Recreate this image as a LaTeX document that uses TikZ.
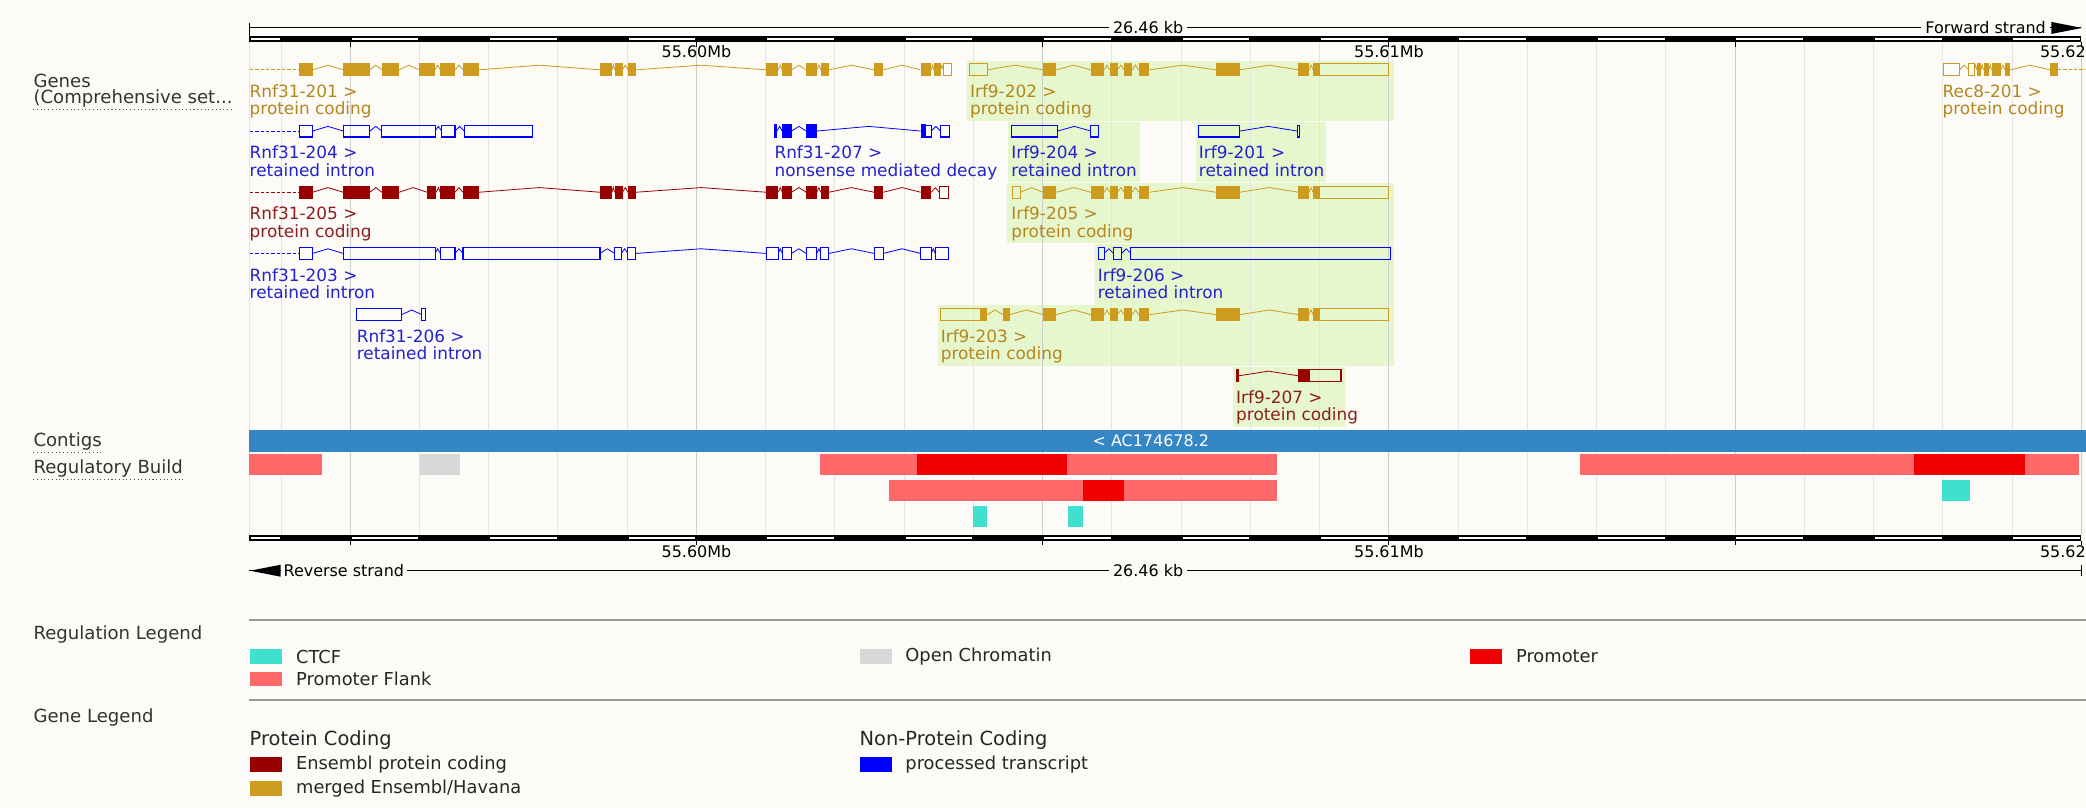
\documentclass[tikz,border=0pt]{standalone}
\usepackage{fontspec}
\setmainfont{DejaVu Sans}
\usepackage{tikz}
\usetikzlibrary{positioning}
\usepackage{xcolor}

\definecolor{pagebg}{RGB}{252,251,247}
\definecolor{ensgold}{RGB}{205,155,29}
\definecolor{ensgoldtxt}{RGB}{180,134,30}
\definecolor{ensred}{RGB}{153,0,0}
\definecolor{ensredtxt}{RGB}{139,30,30}
\definecolor{ensblue}{RGB}{0,0,255}
\definecolor{ensbluetxt}{RGB}{35,35,205}
\definecolor{hilite}{RGB}{230,246,205}
\definecolor{gridgrey}{RGB}{228,228,226}
\definecolor{gridmajor}{RGB}{205,205,203}
\definecolor{contigblue}{RGB}{53,134,196}
\definecolor{flank}{RGB}{255,104,104}
\definecolor{promoter}{RGB}{240,0,0}
\definecolor{ctcf}{RGB}{64,224,208}
\definecolor{openchrom}{RGB}{216,216,216}

\begin{document}
\begin{tikzpicture}[x=1pt, y=-1pt,
  txt/.style={font=\fontsize{12}{13}\selectfont, inner sep=0pt},
  sidelbl/.style={font=\fontsize{13.6}{14}\selectfont, inner sep=0pt, anchor=west, text=black!80},
  glbl/.style={font=\fontsize{12.7}{13}\selectfont, inner sep=0pt, anchor=north west, align=left},
  ext/.style={draw=#1, dash pattern=on 2.5pt off 1.5pt, line width=0.8pt},
  intron/.style={draw=#1, line width=0.6pt},
  utr/.style={draw=#1, line width=0.8pt},
  swatch/.style={fill=#1, minimum width=24pt, minimum height=11pt, inner sep=0pt, anchor=west},
  legtxt/.style={font=\fontsize{13.4}{14}\selectfont, inner sep=0pt, text=black!85},
  leghead/.style={font=\fontsize{14.6}{15}\selectfont, inner sep=0pt, anchor=west, text=black!85},
  sepline/.style={draw=black!40, line width=1.2pt}
]

  %--- page ---
  \useasboundingbox (0,0) rectangle (1568,607);
  \fill[pagebg] (0,0) rectangle (1568,607);

  %--- highlighted Irf9 transcripts ---
  \fill[hilite] (727,45.5) rectangle (1048,91);
  \fill[hilite] (758,91.5) rectangle (857,137);
  \fill[hilite] (899,91.5) rectangle (997,137);
  \fill[hilite] (757,137.5) rectangle (1048,183);
  \fill[hilite] (823,183.5) rectangle (1048,229);
  \fill[hilite] (705,229.5) rectangle (1048,275);
  \fill[hilite] (927,275.5) rectangle (1011,321);

  %--- grid ---
  \draw[gridgrey] (187.5,31.5) -- (187.5,402);
  \foreach \k in {0,...,26}{
    \pgfmathsetmacro\gx{211.2+52.05*\k}
    \draw[gridgrey, line width=0.7pt] (\gx,31.5) -- (\gx,402);
  }
  \foreach \gx in {263.25,523.5,783.75,1044,1304.25,1564.5}
    \draw[gridmajor, line width=0.8pt] (\gx,31.5) -- (\gx,402);

  %--- RULERS ---
  \foreach \ry in {27,402}{
    \fill (187.5,\ry) rectangle (1564.5,\ry+4.5);
    \fill[white] (188.7,\ry+1.5) rectangle (210.2,\ry+3);
    \foreach \k in {1,3,...,25}{
      \pgfmathsetmacro\ga{211.2+52.05*\k+1}
      \pgfmathsetmacro\gb{211.2+52.05*(\k+1)-1}
      \fill[white] (\ga,\ry+1.5) rectangle (\gb,\ry+3);
    }
    \foreach \gx in {263.25,523.5,783.75,1044,1304.25,1564.5}
      \draw[line width=0.8pt] (\gx,\ry+4.5) -- (\gx,\ry+8);
  }
  % top
  \draw[line width=0.7pt] (187.5,21) -- (1564.5,21);
  \draw[line width=0.7pt] (187.5,17) -- (187.5,27);
  \node[txt, fill=pagebg, inner xsep=3pt] (tkb) at (863,21) {26.46 kb};
  \node[txt, fill=pagebg, inner xsep=3pt, anchor=east] (fwd) at (1541,21) {Forward strand};
  \fill (1542,16.5) -- (1565,21) -- (1542,25.5) -- cycle;
  \node[txt] (tlab60) at (523.5,38.5) {55.60Mb};
  \node[txt] (tlab61) at (1044,38.5) {55.61Mb};
  \node[txt, anchor=east] (tlab62) at (1568,38.5) {55.62};
  % bottom
  \node[txt] (blab60) at (523.5,414.5) {55.60Mb};
  \node[txt] (blab61) at (1044,414.5) {55.61Mb};
  \node[txt, anchor=east] (blab62) at (1568,414.5) {55.62};
  \draw[line width=0.7pt] (187.5,429) -- (1564.5,429);
  \draw[line width=0.7pt] (1564.5,425) -- (1564.5,433);
  \fill (188,429) -- (211,424.5) -- (211,433.5) -- cycle;
  \node[txt, fill=pagebg, inner xsep=2pt, anchor=west] (rev) at (211,429) {Reverse strand};
  \node[txt, fill=pagebg, inner xsep=3pt] (bkb) at (863,429) {26.46 kb};

  %--- GENES ---
  % Row 1
  \begin{scope}[shift={(0,52.5)}]
    % Rnf31-201
    \draw[ext=ensgold] (188,0) -- (225,0);
    \foreach \xa/\xb in {235/258,278/287,300/315,327/331,342/348,360/451,460/462,468/472,478/576,585/588,595/606,614/617,623/657,664/692,700/702,707/709}
      \draw[intron=ensgold] (\xa,0) -- ({(\xa+\xb)/2},-3.5) -- (\xb,0);
    \foreach \xa/\xb in {225/235,258/278,287/300,315/327,331/342,348/360,451/460,462/468,472/478,576/585,588/595,606/614,617/623,657/664,692/700,702/707}
      \fill[ensgold] (\xa,-5) rectangle (\xb,5);
    \draw[utr=ensgold] (709,-4.5) rectangle (715,4.5);
    \node[glbl, text=ensgoldtxt] (rnf201) at (187.5,11) {Rnf31-201 >\\protein coding};
    % Irf9-202
    \foreach \xa/\xb in {742/784,794/820,830/834,840/845,851/856,864/914,932/976,984/987}
      \draw[intron=ensgold] (\xa,0) -- ({(\xa+\xb)/2},-3.5) -- (\xb,0);
    \foreach \xa/\xb in {784/794,820/830,834/840,845/851,856/864,914/932,976/984,987/992}
      \fill[ensgold] (\xa,-5) rectangle (\xb,5);
    \foreach \xa/\xb in {729/742,992/1044}
      \draw[utr=ensgold] (\xa,-4.5) rectangle (\xb,4.5);
    \node[glbl, text=ensgoldtxt] (irf202) at (729,11) {Irf9-202 >\\protein coding};
    % Rec8-201
    \foreach \xa/\xb in {1473/1480,1484/1486,1489/1491,1495/1497,1504/1507,1511/1541}
      \draw[intron=ensgold] (\xa,0) -- ({(\xa+\xb)/2},-3.5) -- (\xb,0);
    \foreach \xa/\xb in {1486/1489,1491/1495,1497/1504,1507/1511,1541/1547}
      \fill[ensgold] (\xa,-5) rectangle (\xb,5);
    \foreach \xa/\xb in {1461/1473,1480/1484}
      \draw[utr=ensgold] (\xa,-4.5) rectangle (\xb,4.5);
    \draw[ext=ensgold] (1547,0) -- (1568,0);
    \node[glbl, text=ensgoldtxt] (rec201) at (1460,11) {Rec8-201 >\\protein coding};
  \end{scope}

  % Row 2
  \begin{scope}[shift={(0,98.5)}]
    % Rnf31-204
    \draw[ext=ensblue] (188,0) -- (225,0);
    \foreach \xa/\xb in {235/258,278/287,327/332,342/349}
      \draw[intron=ensblue] (\xa,0) -- ({(\xa+\xb)/2},-3.5) -- (\xb,0);
    \foreach \xa/\xb in {225/235,258/278,287/327,332/342,349/400}
      \draw[utr=ensblue] (\xa,-4.5) rectangle (\xb,4.5);
    \node[glbl, text=ensbluetxt] (rnf204) at (187.5,11) {Rnf31-204 >\\retained intron};
    % Rnf31-207
    \foreach \xa/\xb in {584/588,595/606,614/692,700/707}
      \draw[intron=ensblue] (\xa,0) -- ({(\xa+\xb)/2},-3.5) -- (\xb,0);
    \foreach \xa/\xb in {582/584,588/595,606/614,692/696}
      \fill[ensblue] (\xa,-5) rectangle (\xb,5);
    \foreach \xa/\xb in {696/700,707/714}
      \draw[utr=ensblue] (\xa,-4.5) rectangle (\xb,4.5);
    \node[glbl, text=ensbluetxt] (rnf207) at (582,11) {Rnf31-207 >\\nonsense mediated decay};
    % Irf9-204
    \draw[intron=ensblue] (795,0) -- (807.5,-3.5) -- (820,0);
    \foreach \xa/\xb in {760/795,820/826}
      \draw[utr=ensblue] (\xa,-4.5) rectangle (\xb,4.5);
    \node[glbl, text=ensbluetxt] (irf204) at (760,11) {Irf9-204 >\\retained intron};
    % Irf9-201
    \draw[intron=ensblue] (932,0) -- (953.5,-3.5) -- (975,0);
    \foreach \xa/\xb in {901/932,975/977}
      \draw[utr=ensblue] (\xa,-4.5) rectangle (\xb,4.5);
    \node[glbl, text=ensbluetxt] (irf201) at (901,11) {Irf9-201 >\\retained intron};
  \end{scope}

  % Row 3
  \begin{scope}[shift={(0,144.5)}]
    % Rnf31-205
    \draw[ext=ensred] (188,0) -- (225,0);
    \foreach \xa/\xb in {235/258,278/287,300/321,328/331,342/348,360/451,460/462,468/472,478/576,585/588,595/606,614/617,623/657,664/692,700/706}
      \draw[intron=ensred] (\xa,0) -- ({(\xa+\xb)/2},-3.5) -- (\xb,0);
    \foreach \xa/\xb in {225/235,258/278,287/300,321/328,331/342,348/360,451/460,462/468,472/478,576/585,588/595,606/614,617/623,657/664,692/700}
      \fill[ensred] (\xa,-5) rectangle (\xb,5);
    \draw[utr=ensred] (706,-4.5) rectangle (713,4.5);
    \node[glbl, text=ensredtxt] (rnf205) at (187.5,11) {Rnf31-205 >\\protein coding};
    % Irf9-205
    \foreach \xa/\xb in {767/784,794/820,830/834,840/845,851/856,864/914,932/976,984/987}
      \draw[intron=ensgold] (\xa,0) -- ({(\xa+\xb)/2},-3.5) -- (\xb,0);
    \foreach \xa/\xb in {784/794,820/830,834/840,845/851,856/864,914/932,976/984,987/992}
      \fill[ensgold] (\xa,-5) rectangle (\xb,5);
    \foreach \xa/\xb in {761/767,992/1044}
      \draw[utr=ensgold] (\xa,-4.5) rectangle (\xb,4.5);
    \node[glbl, text=ensgoldtxt] (irf205) at (760,11) {Irf9-205 >\\protein coding};
  \end{scope}

  % Row 4
  \begin{scope}[shift={(0,190.5)}]
    % Rnf31-203
    \draw[ext=ensblue] (188,0) -- (225,0);
    \foreach \xa/\xb in {235/258,327/331,342/348,451/462,467/472,478/576,585/588,595/606,614/617,623/657,664/692,700/703}
      \draw[intron=ensblue] (\xa,0) -- ({(\xa+\xb)/2},-3.5) -- (\xb,0);
    \foreach \xa/\xb in {225/235,258/327,331/342,348/451,462/467,472/478,576/585,588/595,606/614,617/623,657/664,692/700,703/713}
      \draw[utr=ensblue] (\xa,-4.5) rectangle (\xb,4.5);
    \node[glbl, text=ensbluetxt] (rnf203) at (187.5,11) {Rnf31-203 >\\retained intron};
    % Irf9-206
    \foreach \xa/\xb in {830/837,843/850}
      \draw[intron=ensblue] (\xa,0) -- ({(\xa+\xb)/2},-3.5) -- (\xb,0);
    \foreach \xa/\xb in {826/830,837/843,850/1045}
      \draw[utr=ensblue] (\xa,-4.5) rectangle (\xb,4.5);
    \node[glbl, text=ensbluetxt] (irf206) at (825,11) {Irf9-206 >\\retained intron};
  \end{scope}

  % Row 5
  \begin{scope}[shift={(0,236.5)}]
    % Rnf31-206
    \draw[intron=ensblue] (302,0) -- (309.5,-3.5) -- (317,0);
    \foreach \xa/\xb in {268/302,317/320}
      \draw[utr=ensblue] (\xa,-4.5) rectangle (\xb,4.5);
    \node[glbl, text=ensbluetxt] (rnf206) at (268,11) {Rnf31-206 >\\retained intron};
    % Irf9-203
    \foreach \xa/\xb in {742/754,759/784,794/820,830/834,840/845,851/856,864/914,932/976,984/987}
      \draw[intron=ensgold] (\xa,0) -- ({(\xa+\xb)/2},-3.5) -- (\xb,0);
    \foreach \xa/\xb in {737/742,754/759,784/794,820/830,834/840,845/851,856/864,914/932,976/984,987/992}
      \fill[ensgold] (\xa,-5) rectangle (\xb,5);
    \foreach \xa/\xb in {707/737,992/1044}
      \draw[utr=ensgold] (\xa,-4.5) rectangle (\xb,4.5);
    \node[glbl, text=ensgoldtxt] (irf203) at (707,11) {Irf9-203 >\\protein coding};
  \end{scope}

  % Row 6
  \begin{scope}[shift={(0,282.5)}]
    % Irf9-207
    \draw[intron=ensred] (931,0) -- (953.5,-3.5) -- (976,0);
    \foreach \xa/\xb in {929/931,976/984}
      \fill[ensred] (\xa,-5) rectangle (\xb,5);
    \draw[utr=ensred] (984,-4.5) rectangle (1008,4.5);
    \node[glbl, text=ensredtxt] (irf207) at (929,11) {Irf9-207 >\\protein coding};
  \end{scope}

  %--- CONTIGS ---
  \fill[contigblue] (187.5,323) rectangle (1568,339.5);
  \node[txt, text=white] (contig) at (865,331) {< AC174678.2};

  %--- REGULATORY BUILD ---
  % row 1
  \fill[flank] (187.5,341.5) rectangle (242,357);
  \fill[openchrom] (316,341.5) rectangle (346,357);
  \fill[flank] (616,341.5) rectangle (960,357);
  \fill[promoter] (689,341.5) rectangle (802,357);
  \fill[flank] (1188,341.5) rectangle (1563,357);
  \fill[promoter] (1439,341.5) rectangle (1522,357);
  % row 2
  \fill[flank] (668,361) rectangle (960,376.5);
  \fill[promoter] (814,361) rectangle (845,376.5);
  \fill[ctcf] (1460,361) rectangle (1481,376.5);
  % row 3
  \fill[ctcf] (731,380.5) rectangle (742,396);
  \fill[ctcf] (803,380.5) rectangle (814,396);

  %--- side labels ---
  \node[sidelbl] (genes) at (25,61) {Genes};
  \node[sidelbl] (compset) at (25,74) {(Comprehensive set...};
  \node[sidelbl] (contigs) at (25,332) {Contigs};
  \node[sidelbl] (regbuild) at (25,352) {Regulatory Build};
  \foreach \nm in {compset,contigs,regbuild}
    \draw[dotted, line width=0.8pt, black!70] ([yshift=-1.5pt]\nm.south west) -- ([yshift=-1.5pt]\nm.south east);

  %--- LEGENDS ---
  \draw[sepline] (187.5,466) -- (1568,466);
  \node[sidelbl] (reglegend) at (25,477) {Regulation Legend};
  \node[swatch=ctcf] (swctcf) at (188,493.5) {};
  \node[legtxt, right=10pt of swctcf] (lgctcf) {CTCF};
  \node[swatch=flank] (swflank) at (188,510.5) {};
  \node[legtxt, right=10pt of swflank] (lgflank) {Promoter Flank};
  \node[swatch=openchrom] (swopen) at (646,493.5) {};
  \node[legtxt, right=10pt of swopen] (lgopen) {Open Chromatin};
  \node[swatch=promoter] (swprom) at (1105,493.5) {};
  \node[legtxt, right=10pt of swprom] (lgprom) {Promoter};

  \draw[sepline] (187.5,526) -- (1568,526);
  \node[sidelbl] (genelegend) at (25,539) {Gene Legend};
  \node[leghead] (pchead) at (187.5,556) {Protein Coding};
  \node[leghead] (npchead) at (646,556) {Non-Protein Coding};
  \node[swatch=ensred] (swens) at (188,574.5) {};
  \node[legtxt, right=10pt of swens] (lgens) {Ensembl protein coding};
  \node[swatch=ensgold] (swmerged) at (188,592.5) {};
  \node[legtxt, right=10pt of swmerged] (lgmerged) {merged Ensembl/Havana};
  \node[swatch=ensblue] (swproc) at (646,574.5) {};
  \node[legtxt, right=10pt of swproc] (lgproc) {processed transcript};

\end{tikzpicture}
\end{document}
